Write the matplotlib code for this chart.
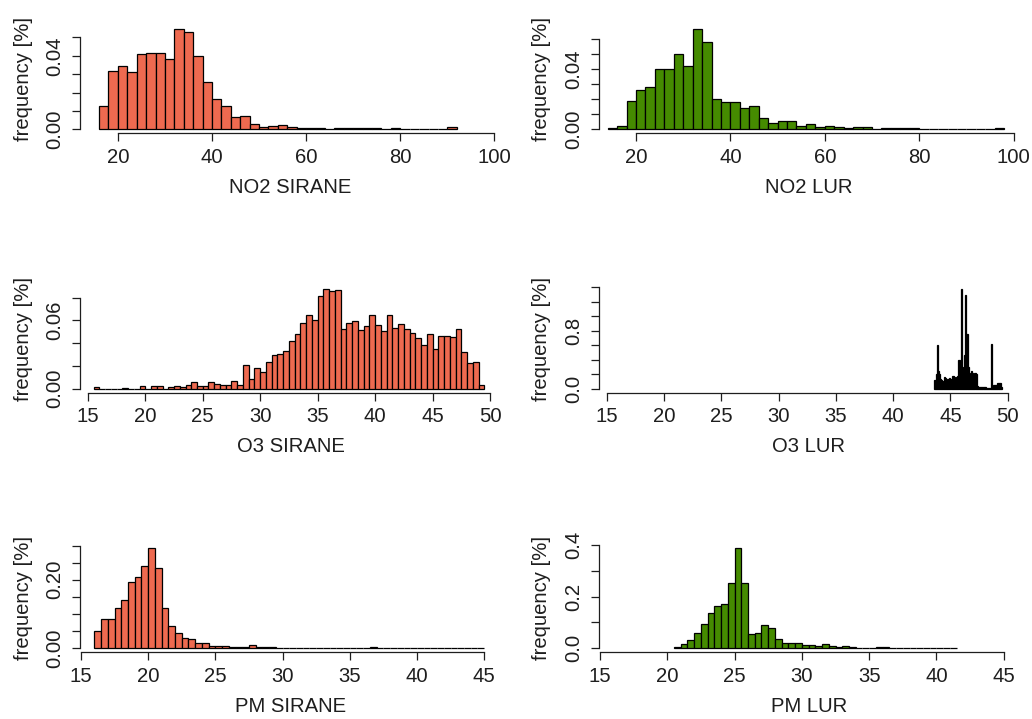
import numpy as np
import matplotlib
matplotlib.use("Agg")
import matplotlib.pyplot as plt

plt.rcParams["font.family"] = ["Liberation Sans", "DejaVu Sans"]

# ---- histogram densities (bin start, bin width, density per bin) ----
no2_sirane_start, no2_sirane_step = 16.0, 2.0
no2_sirane = [0.0127, 0.0316, 0.0344, 0.0309, 0.0409, 0.0416, 0.0416, 0.0380,
              0.0544, 0.0529, 0.0400, 0.0260, 0.0167, 0.0125, 0.0069, 0.0075,
              0.0027, 0.0013, 0.0018, 0.0025, 0.0013, 0.0007, 0.0007, 0.0007,
              0.0, 0.0007, 0.0007, 0.0007, 0.0007, 0.0007, 0.0, 0.0007,
              0.0, 0.0, 0.0, 0.0, 0.0, 0.0010]

no2_lur_start, no2_lur_step = 14.0, 2.0
no2_lur = [0.0009, 0.0025, 0.0190, 0.0260, 0.0284, 0.0405, 0.0405, 0.0503,
           0.0425, 0.0667, 0.0582, 0.0199, 0.0181, 0.0181, 0.0145, 0.0154,
           0.0078, 0.0040, 0.0058, 0.0058, 0.0025, 0.0034, 0.0016, 0.0025,
           0.0018, 0.0011, 0.0018, 0.0018, 0.0, 0.0009, 0.0009, 0.0009,
           0.0009, 0.0, 0.0, 0.0, 0.0, 0.0, 0.0, 0.0, 0.0, 0.0011]

o3_sirane_start, o3_sirane_step = 15.5, 0.5
o3_sirane = [0.0012, 0.0, 0.0, 0.0, 0.0, 0.0010, 0.0, 0.0, 0.0024, 0.0,
             0.0024, 0.0024, 0.0, 0.0012, 0.0027, 0.0018, 0.0035, 0.0056,
             0.0020, 0.0020, 0.0056, 0.0044, 0.0032, 0.0032, 0.0068, 0.0030,
             0.0212, 0.0083, 0.0180, 0.0147, 0.0239, 0.0292, 0.0307, 0.0330,
             0.0422, 0.0480, 0.0575, 0.0650, 0.0605, 0.0814, 0.0879, 0.0858,
             0.0867, 0.0525, 0.0575, 0.0593, 0.0513, 0.0549, 0.0652, 0.0564,
             0.0504, 0.0652, 0.0537, 0.0572, 0.0525, 0.0493, 0.0442, 0.0386,
             0.0481, 0.0351, 0.0466, 0.0466, 0.0454, 0.0525, 0.0322, 0.0227,
             0.0239, 0.0032]

o3_lur_start, o3_lur_step = 43.6, 0.1
o3_lur = [0.12, 0.20, 0.60, 0.24, 0.20, 0.13, 0.12, 0.10, 0.16, 0.15,
          0.12, 0.14, 0.13, 0.15, 0.14, 0.18, 0.17, 0.14, 0.16, 0.15,
          0.18, 0.40, 0.22, 1.38, 0.30, 0.20, 0.47, 1.29, 0.76, 0.30,
          0.22, 0.16, 0.24, 0.22, 0.14, 0.22, 0.20, 0.04, 0.03, 0.03,
          0.03, 0.03, 0.03, 0.03, 0.03, 0.01, 0.01, 0.01, 0.01, 0.61,
          0.04, 0.05, 0.05, 0.05, 0.05, 0.08, 0.08, 0.08, 0.03]

pm_sirane_start, pm_sirane_step = 16.0, 0.5
pm_sirane = [0.0507, 0.0867, 0.0867, 0.118, 0.140, 0.193, 0.2086, 0.240,
             0.292, 0.234, 0.118, 0.064, 0.046, 0.030, 0.026, 0.0146,
             0.0146, 0.0078, 0.0078, 0.0078, 0.004, 0.004, 0.004, 0.0088,
             0.004, 0.004, 0.004,
             0.0, 0.0, 0.0, 0.0, 0.0, 0.0, 0.0, 0.0, 0.0, 0.0, 0.0, 0.0, 0.0, 0.0,
             0.003,
             0.0, 0.0, 0.0, 0.0, 0.0, 0.0, 0.0, 0.0, 0.0, 0.0, 0.0, 0.0, 0.0, 0.0,
             0.0, 0.0]

pm_lur_start, pm_lur_step = 20.5, 0.5
pm_lur = [0.0065, 0.0155, 0.031, 0.0606, 0.0955, 0.1355, 0.165, 0.1716,
          0.2516, 0.387, 0.2516, 0.054, 0.0606, 0.090, 0.080, 0.036,
          0.0194, 0.0194, 0.0194, 0.0142, 0.0142, 0.0103, 0.0155, 0.0103,
          0.005, 0.0103, 0.005, 0.0, 0.0, 0.0, 0.0065, 0.0065,
          0.0, 0.0, 0.0, 0.0, 0.0, 0.0, 0.0, 0.0, 0.0, 0.0]

# ---- axis ticks and labels ----
x_ticks_no2 = [20, 40, 60, 80, 100]
x_ticks_o3 = [15, 20, 25, 30, 35, 40, 45, 50]
x_ticks_pm = [15, 20, 25, 30, 35, 40, 45]

y_ticks_no2_sirane = [0.00, 0.01, 0.02, 0.03, 0.04, 0.05]
y_labels_no2_sirane = ["0.00", "", "", "", "0.04", ""]
y_ticks_no2_lur = [0.00, 0.01, 0.02, 0.03, 0.04, 0.05, 0.06]
y_labels_no2_lur = ["0.00", "", "", "", "0.04", "", ""]
y_ticks_o3_sirane = [0.00, 0.02, 0.04, 0.06, 0.08]
y_labels_o3_sirane = ["0.00", "", "", "0.06", ""]
y_ticks_o3_lur = [0.0, 0.2, 0.4, 0.6, 0.8, 1.0, 1.2, 1.4]
y_labels_o3_lur = ["0.0", "", "", "", "0.8", "", "", ""]
y_ticks_pm_sirane = [0.00, 0.05, 0.10, 0.15, 0.20, 0.25, 0.30]
y_labels_pm_sirane = ["0.00", "", "", "", "0.20", "", ""]
y_ticks_pm_lur = [0.0, 0.1, 0.2, 0.3, 0.4]
y_labels_pm_lur = ["0.0", "", "0.2", "", "0.4"]

SIRANE_FILL = "#EE6A50"
LUR_FILL = "#458B00"
INK = "#1e1e1e"
FS = 14.6

panels = [
    # (values, start, step, fill, xlabel, xticks, yticks, ylabels, xlim, row, col)
    (no2_sirane, no2_sirane_start, no2_sirane_step, SIRANE_FILL, "NO2 SIRANE",
     x_ticks_no2, y_ticks_no2_sirane, y_labels_no2_sirane, (11.95, 101.4), 0, 0),
    (no2_lur, no2_lur_start, no2_lur_step, LUR_FILL, "NO2 LUR",
     x_ticks_no2, y_ticks_no2_lur, y_labels_no2_lur, (12.05, 101.25), 0, 1),
    (o3_sirane, o3_sirane_start, o3_sirane_step, SIRANE_FILL, "O3 SIRANE",
     x_ticks_o3, y_ticks_o3_sirane, y_labels_o3_sirane, (14.32, 50.95), 1, 0),
    (o3_lur, o3_lur_start, o3_lur_step, LUR_FILL, "O3 LUR",
     x_ticks_o3, y_ticks_o3_lur, y_labels_o3_lur, (14.28, 51.03), 1, 1),
    (pm_sirane, pm_sirane_start, pm_sirane_step, SIRANE_FILL, "PM SIRANE",
     x_ticks_pm, y_ticks_pm_sirane, y_labels_pm_sirane, (14.93, 46.25), 2, 0),
    (pm_lur, pm_lur_start, pm_lur_step, LUR_FILL, "PM LUR",
     x_ticks_pm, y_ticks_pm_lur, y_labels_pm_lur, (14.89, 46.17), 2, 1),
]

W, H = 1032, 719
fig = plt.figure(figsize=(W / 100, H / 100), dpi=100)
fig.patch.set_facecolor("white")

col_left = [80.0, 598.5]
plot_w = 421.0
row_bottom = [133.3, 392.7, 652.3]
plot_h = 108.0

for vals, start, step, fill, xlabel, xt, yt, yl, xlim, r, c in panels:
    rect = [col_left[c] / W, 1 - row_bottom[r] / H, plot_w / W, plot_h / H]
    ax = fig.add_axes(rect)
    vals = np.asarray(vals, dtype=float)
    edges = start + step * np.arange(len(vals) + 1)
    # bins only a pixel or so wide render as solid outline colour
    bin_px = step * plot_w / (xlim[1] - xlim[0])
    face = "black" if bin_px < 3 else fill
    ax.bar(edges[:-1], vals, width=np.diff(edges), align="edge",
           color=face, edgecolor="black", linewidth=0.9)
    ymax = vals.max()
    ax.set_ylim(-0.04 * ymax, 1.04 * ymax)
    ax.set_xlim(*xlim)

    for side in ("top", "right"):
        ax.spines[side].set_visible(False)
    for side in ("left", "bottom"):
        ax.spines[side].set_color(INK)
        ax.spines[side].set_linewidth(0.9)
    ax.spines["bottom"].set_bounds(xt[0], xt[-1])
    ax.spines["left"].set_bounds(yt[0], yt[-1])

    ax.set_xticks(xt, [str(t) for t in xt])
    ax.set_yticks(yt, yl, rotation=90, va="center")
    ax.tick_params(axis="both", direction="out", length=5.8, width=0.9,
                   color=INK, labelcolor=INK, labelsize=FS)
    ax.tick_params(axis="x", pad=4.5)
    ax.tick_params(axis="y", pad=5.5)
    ax.set_xlabel(xlabel, fontsize=FS, color=INK, labelpad=8.0)
    ax.set_ylabel("frequency [%]", fontsize=FS, color=INK, labelpad=8.9)
    ax.patch.set_alpha(0)

fig.savefig("out.png", dpi=100, facecolor="white")
